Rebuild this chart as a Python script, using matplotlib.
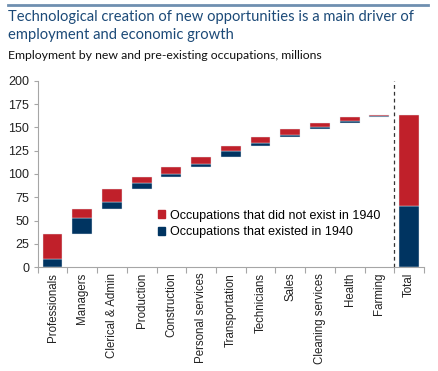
import numpy as np
import matplotlib
matplotlib.use("Agg")
import matplotlib.pyplot as plt
from matplotlib.patches import Patch

# data (millions)
categories = ["Professionals", "Managers", "Clerical & Admin", "Production",
              "Construction", "Personal services", "Transportation",
              "Technicians", "Sales", "Cleaning services", "Health", "Farming"]
existed = [9.3, 17.3, 7.0, 6.7, 4.0, 3.5, 6.0, 3.0, 2.7, 2.3, 2.2, 1.5]
new = [26.4, 9.8, 13.8, 6.1, 7.1, 7.5, 5.2, 6.9, 5.6, 4.5, 3.9, 0.6]
total_label = "Total"

RED = "#C0202A"
BLUE = "#003461"
EDGE = "#e3e7ee"
GREY = "#a6a6a6"

existed = np.array(existed)
new = np.array(new)
cum = np.concatenate([[0], np.cumsum(existed + new)[:-1]])

fig = plt.figure(figsize=(4.38, 3.71), dpi=100)
ax = fig.add_axes([0.086, 0.2795, 0.882, 0.503])

x = np.arange(len(categories))
w = 0.67
ax.bar(x, existed, w, bottom=cum, color=BLUE, edgecolor=EDGE, linewidth=0.3)
ax.bar(x, new, w, bottom=cum + existed, color=RED, edgecolor=EDGE, linewidth=0.3)

xt = len(categories)
ax.bar(xt, existed.sum(), w, color=BLUE, edgecolor=EDGE, linewidth=0.3)
ax.bar(xt, new.sum(), w, bottom=existed.sum(), color=RED, edgecolor=EDGE, linewidth=0.3)

ax.axvline(xt - 0.5, color="#333333", linestyle=(0, (3, 2.5)), linewidth=0.9)

ax.set_xlim(-0.5, xt + 0.5)
ax.set_ylim(0, 200)
ax.set_yticks(np.arange(0, 201, 25))
ax.set_xticks(list(x) + [xt])
ax.set_xticklabels(categories + [total_label], rotation=90,
                   fontsize=8.3, family="Liberation Sans", color="#222222")
ax.set_xticks(np.arange(-0.5, xt + 1, 1), minor=True)
ax.tick_params(axis="x", which="major", length=0, pad=4)
ax.tick_params(axis="x", which="minor", length=4, color=GREY, width=0.8)
ax.tick_params(axis="y", length=3, color=GREY, width=0.8, pad=3)
for lab in ax.get_yticklabels():
    lab.set_fontsize(9)
    lab.set_family("Liberation Sans")
    lab.set_color("#222222")

for s in ["top", "right"]:
    ax.spines[s].set_visible(False)
for s in ["left", "bottom"]:
    ax.spines[s].set_color(GREY)
    ax.spines[s].set_linewidth(0.8)

handles = [Patch(color=RED, label="Occupations that did not exist in 1940"),
           Patch(color=BLUE, label="Occupations that existed in 1940")]
ax.legend(handles=handles, loc="upper left", bbox_to_anchor=(0.298, 0.335),
          frameon=False, handlelength=0.6, handleheight=0.6, handletextpad=0.4,
          labelspacing=0.35, prop={"family": "Liberation Sans", "size": 9},
          borderaxespad=0)

# header
fig.add_artist(plt.Line2D([8 / 438, 428 / 438], [1 - 5 / 371] * 2,
                          color="#6f8fb0", linewidth=2))
fig.text(8 / 438, 1 - 10 / 371,
         "Technological creation of new opportunities is a main driver of\n"
         "employment and economic growth",
         ha="left", va="top", fontsize=10.6, family="Lato", color="#1c4a78",
         linespacing=1.35)
fig.text(8 / 438, 1 - 50 / 371,
         "Employment by new and pre-existing occupations, millions",
         ha="left", va="top", fontsize=8.8, family="Lato", color="#111111")

fig.savefig("out.png", dpi=100)
